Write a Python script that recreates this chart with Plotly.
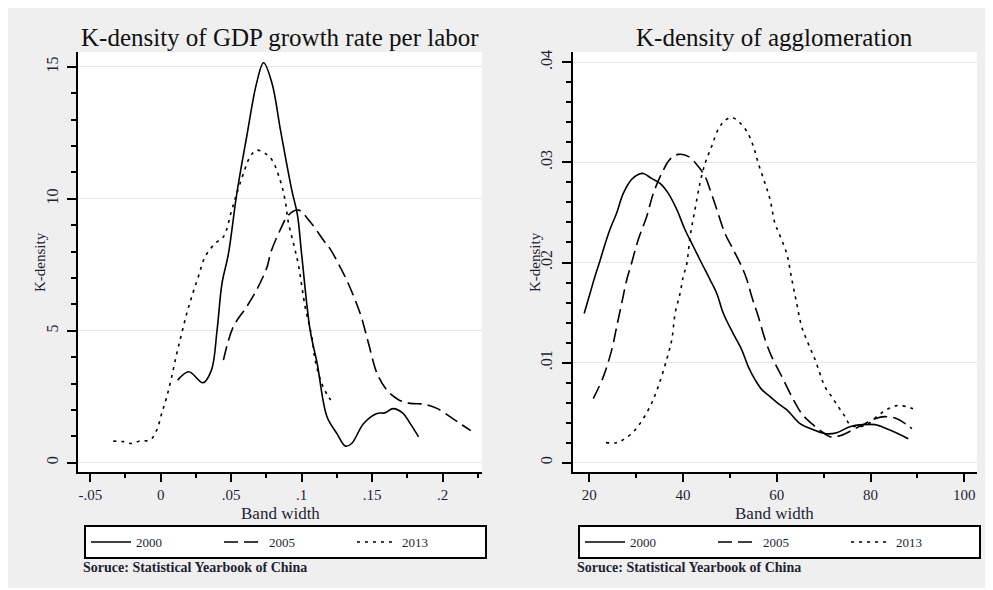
import plotly.graph_objects as go

# The page body adds an 8px margin, so the figure is drawn 8px in from the window corner.
OFF = 8
W, H = 993 - OFF, 590 - OFF

# ---------------- data: K-density of GDP growth rate per labor ----------------
gdp_x_2000 = [0.012, 0.020, 0.030, 0.036, 0.040, 0.0435, 0.048, 0.054, 0.061, 0.068, 0.073, 0.079,
              0.085, 0.093, 0.097, 0.100, 0.106, 0.111, 0.118, 0.125, 0.131, 0.1355, 0.144, 0.1535,
              0.159, 0.165, 0.172, 0.177, 0.183]
gdp_y_2000 = [3.13, 3.45, 3.03, 3.51, 5.03, 6.8, 7.9, 10.2, 12.35, 14.37, 15.15, 14.37,
              12.6, 10.33, 9.4, 7.9, 5.03, 3.77, 1.74, 1.11, 0.63, 0.73, 1.49, 1.87,
              1.89, 2.05, 1.87, 1.49, 0.98]

gdp_x_2005 = [0.0445, 0.0515, 0.061, 0.068, 0.0755, 0.078, 0.0847, 0.0906, 0.0977, 0.106, 0.1155,
              0.120, 0.126, 0.133, 0.1415, 0.1475, 0.1535, 0.1605, 0.169, 0.177, 0.1865, 0.196,
              0.2055, 0.214, 0.220]
gdp_y_2005 = [3.89, 5.15, 5.91, 6.54, 7.42, 7.95, 8.81, 9.38, 9.57, 9.13, 8.43,
              8.12, 7.55, 6.8, 5.66, 4.52, 3.39, 2.75, 2.38, 2.25, 2.22, 2.06,
              1.74, 1.43, 1.22]

gdp_x_2013 = [-0.0337, -0.0266, -0.0206, -0.0147, -0.0076, -0.0028, 0.0007, 0.0043, 0.0078, 0.0114,
              0.0149, 0.0185, 0.022, 0.0267, 0.0315, 0.0386, 0.0445, 0.0504, 0.054, 0.0587, 0.0634,
              0.068, 0.074, 0.079, 0.0847, 0.0883, 0.0906, 0.0942, 0.0977, 0.1025, 0.1072, 0.1096,
              0.1143, 0.119, 0.1226]
gdp_y_2013 = [0.82, 0.8, 0.73, 0.83, 0.86, 1.24, 1.87, 2.5, 3.26, 4.14,
              4.9, 5.66, 6.29, 7.05, 7.8, 8.31, 8.56, 9.57, 10.2, 10.96, 11.59,
              11.84, 11.72, 11.47, 10.71, 9.94, 9.1, 8.31, 7.5, 5.91, 4.77, 3.89,
              3.0, 2.5, 2.25]

# ---------------- data: K-density of agglomeration ----------------
agg_x_2000 = [18.9, 20.15, 21.2, 22.3, 23.0, 24.4, 25.8, 27.25, 29.0, 30.45, 31.5, 33.3, 35.1, 36.85,
              38.65, 40.4, 42.2, 44.0, 45.75, 47.2, 48.6, 50.7, 52.5, 53.9, 55.35, 56.8, 58.55, 60.3,
              62.1, 64.95, 67.8, 70.3, 72.8, 75.6, 78.45, 80.95, 83.45, 85.9, 88.05]
agg_y_2000 = [0.0149, 0.0169, 0.0186, 0.0202, 0.0213, 0.0233, 0.0249, 0.0269, 0.0283, 0.0288, 0.0289,
              0.0284, 0.0279, 0.0269, 0.0253, 0.0233, 0.0216, 0.0199, 0.0183, 0.0169, 0.0149, 0.0129,
              0.0113, 0.0096, 0.0083, 0.0073, 0.0066, 0.0059, 0.0053, 0.0039, 0.0033, 0.0029, 0.0030,
              0.0036, 0.0038, 0.0038, 0.0034, 0.0029, 0.0024]

agg_x_2005 = [20.85, 23.0, 24.8, 25.85, 26.9, 28.0, 29.0, 30.45, 32.25, 33.65, 35.45, 37.2, 39.0, 41.1,
              42.9, 44.7, 45.75, 47.2, 48.95, 50.7, 52.5, 53.6, 54.65, 56.05, 57.5, 58.9, 60.3, 61.4,
              63.2, 65.3, 67.45, 69.6, 71.35, 73.5, 76.3, 78.8, 80.95, 83.1, 85.6, 87.7, 88.8]
agg_y_2005 = [0.0064, 0.0086, 0.0113, 0.0136, 0.0159, 0.0183, 0.0199, 0.0223, 0.0246, 0.0269, 0.0289,
              0.0303, 0.0308, 0.0306, 0.0298, 0.0286, 0.0273, 0.0253, 0.0229, 0.0213, 0.0196, 0.0183,
              0.0166, 0.0146, 0.0123, 0.0106, 0.0093, 0.0083, 0.0066, 0.0049, 0.0039, 0.0031, 0.0026,
              0.0027, 0.0033, 0.0039, 0.0044, 0.0046, 0.0044, 0.0038, 0.0034]

agg_x_2013 = [23.55, 25.85, 27.25, 29.0, 30.8, 32.95, 34.7, 36.5, 37.6, 38.3, 39.35, 40.05, 40.8, 41.5,
              42.55, 43.6, 44.7, 46.1, 47.5, 48.95, 50.4, 51.8, 53.6, 55.0, 56.05, 57.5, 58.55, 59.6,
              60.3, 62.1, 63.2, 64.25, 65.3, 66.7, 68.15, 69.2, 70.25, 71.7, 73.1, 74.55, 75.6, 77.75,
              79.5, 81.3, 83.45, 85.6, 87.7, 89.6]
agg_y_2013 = [0.0020, 0.0020, 0.0023, 0.0029, 0.0039, 0.0056, 0.0076, 0.0103, 0.0123, 0.0149, 0.0169,
              0.0186, 0.0199, 0.0226, 0.0253, 0.0279, 0.0299, 0.0316, 0.0333, 0.0342, 0.0345, 0.0341,
              0.0331, 0.0316, 0.0299, 0.0279, 0.0263, 0.0239, 0.0231, 0.0209, 0.0183, 0.0159, 0.0136,
              0.0119, 0.0103, 0.0089, 0.0076, 0.0066, 0.0056, 0.0046, 0.0038, 0.0036, 0.0039, 0.0046,
              0.0053, 0.0057, 0.0056, 0.0053]

years = ["2000", "2005", "2013"]

gdp_xtick_vals = [-0.05, 0, 0.05, 0.1, 0.15, 0.2]
gdp_xtick_text = ["-.05", "0", ".05", ".1", ".15", ".2"]
gdp_ytick_vals = [0, 5, 10, 15]
gdp_ytick_text = ["0", "5", "10", "15"]
agg_xtick_vals = [20, 40, 60, 80, 100]
agg_xtick_text = ["20", "40", "60", "80", "100"]
agg_ytick_vals = [0, 0.01, 0.02, 0.03, 0.04]
agg_ytick_text = ["0", ".01", ".02", ".03", ".04"]

titles = ["K-density of GDP growth rate per labor", "K-density of agglomeration"]
x_title = "Band width"
y_title = "K-density"
source_text = "Soruce: Statistical Yearbook of China"

# ---------------- styling ----------------
SERIF = "Liberation Serif, Times New Roman, serif"
TXT = "#1f1f33"
dashes = ["solid", "14px,6px", "3px,5px"]
LW = 1.6

fig = go.Figure()

gdp_series = [(gdp_x_2000, gdp_y_2000), (gdp_x_2005, gdp_y_2005), (gdp_x_2013, gdp_y_2013)]
agg_series = [(agg_x_2000, agg_y_2000), (agg_x_2005, agg_y_2005), (agg_x_2013, agg_y_2013)]

for (xs, ys), yr, d in zip(gdp_series, years, dashes):
    fig.add_trace(go.Scatter(x=xs, y=ys, mode="lines", name=yr, line=dict(color="black", width=LW, dash=d),
                             line_shape="spline", xaxis="x", yaxis="y", legend="legend"))
for (xs, ys), yr, d in zip(agg_series, years, dashes):
    fig.add_trace(go.Scatter(x=xs, y=ys, mode="lines", name=yr, line=dict(color="black", width=LW, dash=d),
                             line_shape="spline", xaxis="x2", yaxis="y2", legend="legend2"))


def px_x(p):
    """window pixel x -> paper fraction"""
    return (p - OFF) / W


def px_y(p):
    """window pixel y (from top) -> paper fraction"""
    return (H - (p - OFF)) / H


left_dom = [px_x(78), px_x(482)]
right_dom = [px_x(572.7), px_x(977)]
y_dom = [px_y(472), px_y(52)]

common_x = dict(showline=True, linecolor="black", linewidth=2, ticks="outside", ticklen=8, tickwidth=1.5,
                tickcolor="black", showgrid=False, zeroline=False, automargin=False,
                tickfont=dict(family=SERIF, size=15, color=TXT))
common_y = dict(showline=True, linecolor="black", linewidth=2, ticks="outside", ticklen=9, tickwidth=1.5,
                tickcolor="black", showgrid=True, gridcolor="#e6e6e6", gridwidth=1, zeroline=False,
                tickangle=-90, ticklabelstandoff=3, automargin=False,
                tickfont=dict(family=SERIF, size=16, color=TXT))

legend_common = dict(orientation="h", y=px_y(525), xanchor="left", yanchor="top",
                     bgcolor="white", bordercolor="black", borderwidth=2,
                     font=dict(family=SERIF, size=13, color=TXT), entrywidth=78, itemwidth=40)

fig.update_layout(
    width=W, height=H,
    margin=dict(l=0, r=0, t=0, b=0, autoexpand=False),
    paper_bgcolor="white",
    plot_bgcolor="rgba(0,0,0,0)",
    xaxis=dict(domain=left_dom, anchor="y", range=[-0.0587, 0.228], tickmode="array",
               tickvals=gdp_xtick_vals, ticktext=gdp_xtick_text,
               minor=dict(tickmode="linear", tick0=0, dtick=0.025, ticklen=4, tickwidth=1.5,
                          tickcolor="black", ticks="outside", showgrid=False),
               **common_x),
    yaxis=dict(domain=y_dom, anchor="x", range=[-0.35, 15.56], tickmode="array",
               tickvals=gdp_ytick_vals, ticktext=gdp_ytick_text,
               minor=dict(tickmode="linear", tick0=0, dtick=1, ticklen=5, tickwidth=1.5,
                          tickcolor="black", ticks="outside", showgrid=False),
               **common_y),
    xaxis2=dict(domain=right_dom, anchor="y2", range=[16.46, 102.7], tickmode="array",
                tickvals=agg_xtick_vals, ticktext=agg_xtick_text,
                minor=dict(tickmode="linear", tick0=0, dtick=10, ticklen=4, tickwidth=1.5,
                           tickcolor="black", ticks="outside", showgrid=False),
                **common_x),
    yaxis2=dict(domain=y_dom, anchor="x2", range=[-0.00093, 0.04103], tickmode="array",
                tickvals=agg_ytick_vals, ticktext=agg_ytick_text,
                minor=dict(tickmode="linear", tick0=0, dtick=0.002, ticklen=5, tickwidth=1.5,
                           tickcolor="black", ticks="outside", showgrid=False),
                **common_y),
    legend=dict(x=px_x(84), **legend_common),
    legend2=dict(x=px_x(578), **legend_common),
    showlegend=True,
)

# panel background and white plot regions
shapes = [
    dict(type="rect", xref="paper", yref="paper", x0=0, x1=px_x(990), y0=px_y(588), y1=1,
         fillcolor="#efefef", line=dict(width=0), layer="below"),
    dict(type="rect", xref="paper", yref="paper", x0=left_dom[0], x1=left_dom[1], y0=y_dom[0], y1=y_dom[1],
         fillcolor="white", line=dict(width=0), layer="below"),
    dict(type="rect", xref="paper", yref="paper", x0=right_dom[0], x1=right_dom[1], y0=y_dom[0], y1=y_dom[1],
         fillcolor="white", line=dict(width=0), layer="below"),
]
fig.update_layout(shapes=shapes)

ann = []
centers = [(78 + 482) / 2, (572.7 + 977) / 2]
for c, t in zip(centers, titles):
    ann.append(dict(text=t, x=px_x(c), y=px_y(37), xref="paper", yref="paper", xanchor="center",
                    yanchor="middle", showarrow=False, font=dict(family=SERIF, size=25, color="#111111")))
    ann.append(dict(text=x_title, x=px_x(c), y=px_y(513), xref="paper", yref="paper", xanchor="center",
                    yanchor="middle", showarrow=False, font=dict(family=SERIF, size=17, color=TXT)))
for xc in [40, 535]:
    ann.append(dict(text=y_title, x=px_x(xc), y=px_y(262), xref="paper", yref="paper", xanchor="center",
                    yanchor="middle", textangle=-90, showarrow=False,
                    font=dict(family=SERIF, size=15, color=TXT)))
for xl in [81, 575]:
    ann.append(dict(text=source_text, x=px_x(xl), y=px_y(567), xref="paper", yref="paper", xanchor="left",
                    yanchor="middle", showarrow=False,
                    font=dict(family=SERIF, size=14, color=TXT, weight="bold")))
fig.update_layout(annotations=ann)

fig.write_html("out.html")
